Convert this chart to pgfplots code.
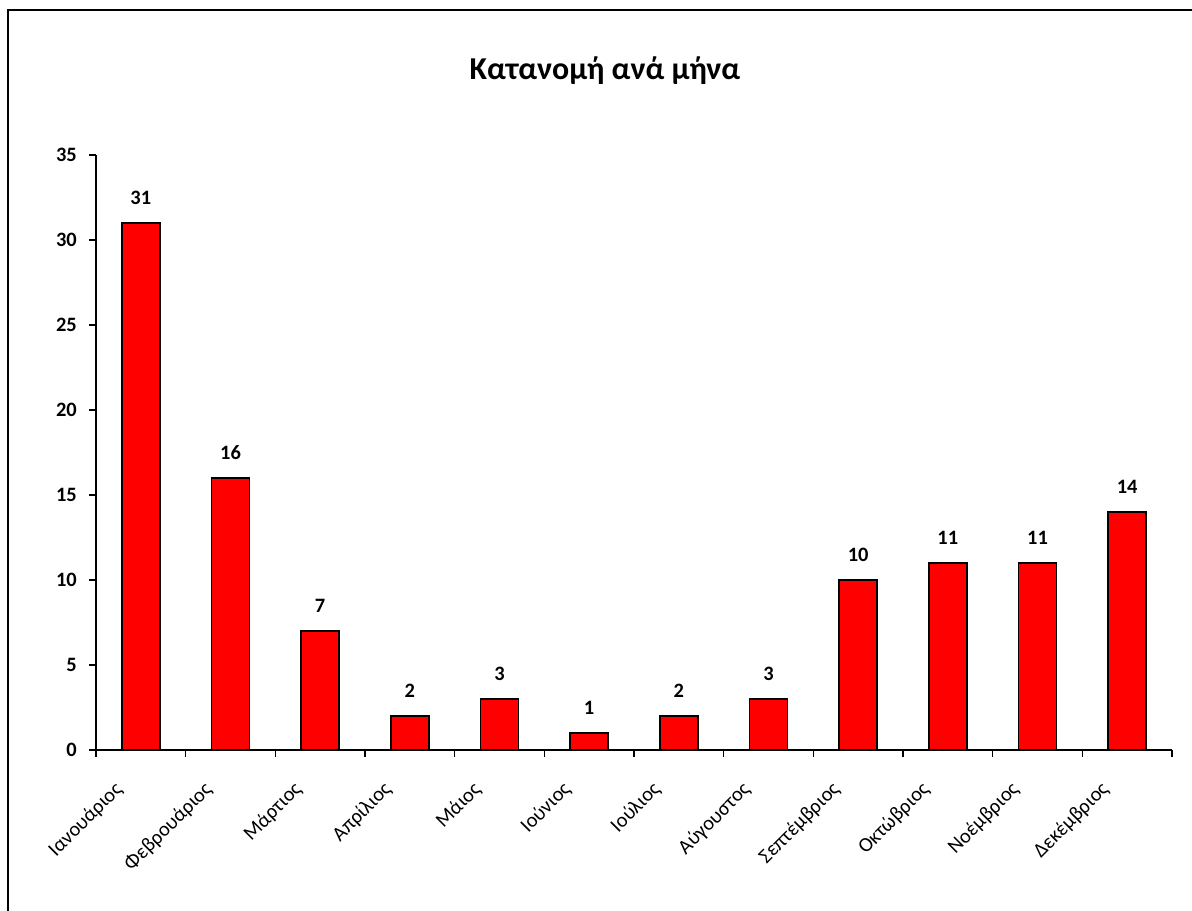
\documentclass[border=0pt]{standalone}
\usepackage{pgfplots}
\pgfplotsset{compat=1.18}
\usepackage{fontspec}
\setmainfont{Carlito}
\begin{document}
\begin{tikzpicture}[x=1bp,y=1bp]
\path[use as bounding box] (-96bp,-161bp) rectangle (1096bp,750bp);
\draw[line width=1.5bp] (-88bp,-170bp) -- (-88bp,740bp) -- (1100bp,740bp);
\node[font=\bfseries\fontsize{32}{38}\selectfont, anchor=base] at (509bp,670bp) {Κατανομή ανά μήνα};
\begin{axis}[
  at={(0,0)}, anchor=south west,
  scale only axis, width=1076bp, height=595bp,
  xmin=-0.5, xmax=11.5, ymin=0, ymax=35,
  axis lines=left, axis line style={-, line width=2bp},
  /pgf/number format/assume math mode=true,
  ytick={0,5,...,35},
  xtick={0,...,11},
  xticklabels={Ιανουάριος,Φεβρουάριος,Μάρτιος,Απρίλιος,Μάιος,Ιούνιος,Ιούλιος,Αύγουστος,Σεπτέμβριος,Οκτώβριος,Νοέμβριος,Δεκέμβριος},
  minor xtick={-0.5,0.5,...,11.5},
  tick align=outside,
  major tick length=7bp, minor tick length=7bp,
  major x tick style={draw=none},
  every tick/.style={black, line width=1.5bp},
  minor tick style={black, line width=1.5bp},
  major y tick style={black, line width=1.5bp},
  yticklabel style={font=\bfseries\fontsize{20.5}{24}\selectfont, inner sep=0pt, xshift=-12bp},
  xticklabel style={font=\fontsize{20.5}{24}\selectfont, inner sep=0pt, xshift=-28bp, yshift=-23bp, rotate=45, anchor=north east},
  ybar, bar width=38bp,
  nodes near coords,
  every node near coord/.append style={font=\bfseries\fontsize{20.5}{24}\selectfont, inner sep=0pt, anchor=south, yshift=18bp},
  clip=false,
]
\addplot[fill=red, draw=black, line width=1.5bp] coordinates {
(0,31) (1,16) (2,7) (3,2) (4,3) (5,1) (6,2) (7,3) (8,10) (9,11) (10,11) (11,14)
};
\end{axis}
\end{tikzpicture}
\end{document}
